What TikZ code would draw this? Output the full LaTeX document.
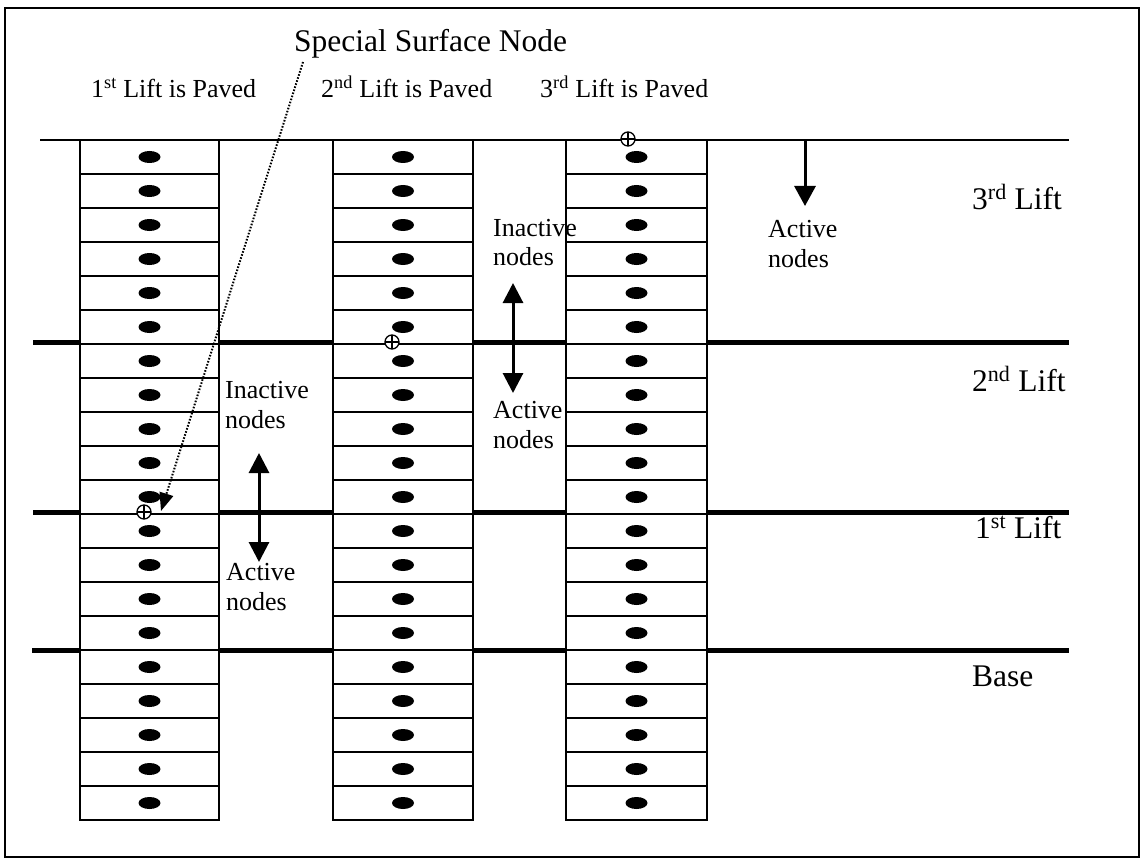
\documentclass[tikz,border=0pt]{standalone}
\usepackage{fontspec}
\setmainfont{Liberation Serif}
\usetikzlibrary{arrows.meta}
\begin{document}
\begin{tikzpicture}[x=1pt,y=-1pt,
  frame/.style={draw,line width=1.8pt},
  colbox/.style={draw,line width=2.2pt,fill=white},
  rowline/.style={line width=1.9pt},
  liftline/.style={line width=5pt},
  topline/.style={line width=2.2pt},
  big/.style={font=\fontsize{31.5}{36}\selectfont,inner sep=0pt,anchor=base west},
  mid/.style={font=\fontsize{26}{30}\selectfont,inner sep=0pt,anchor=base west},
  dbl/.style={line width=3pt,{Triangle[length=20pt,width=20pt]}-{Triangle[length=20pt,width=20pt]}},
  sgl/.style={line width=3pt,-{Triangle[length=20pt,width=21pt]}},
  dotarrow/.style={line width=2pt,dash pattern=on 1.6pt off 1.6pt,-{Triangle[length=18pt,width=14pt]}},
  surf/.style={circle,draw,fill=white,line width=1.3pt,minimum size=14pt,inner sep=0pt,
    path picture={\draw[line width=1.3pt] (path picture bounding box.north) -- (path picture bounding box.south)
      (path picture bounding box.west) -- (path picture bounding box.east);}}
]
\useasboundingbox (0,0) rectangle (1142,861);
\draw[frame] (5,8) rectangle (1139,857);

% horizontal lines
\draw[topline] (40,140) -- (1069,140);
\draw[liftline] (33,342) -- (1069,342);
\draw[liftline] (33,512) -- (1069,512);
\draw[liftline] (32,650) -- (1069,650);

% columns of cells
\foreach \xl/\xr in {80/219,333/473,566/707} {
  \draw[colbox] (\xl,140) rectangle (\xr,820);
  \foreach \i in {1,...,19}
    \draw[rowline] (\xl,{140+34*\i}) -- (\xr,{140+34*\i});
  \foreach \i in {0,...,19}
    \fill ({(\xl+\xr)/2},{157+34*\i}) ellipse [x radius=11,y radius=6];
}

% special surface nodes
\node[surf] (p1) at (144,512) {};
\node[surf] (p2) at (392,342) {};
\node[surf] (p3) at (628,139) {};

% titles
\node[big] (ssn) at (294,52) {Special Surface Node};
\node[mid] (t1) at (91,98) {1\textsuperscript{st} Lift is Paved};
\node[mid] (t2) at (321,98) {2\textsuperscript{nd} Lift is Paved};
\node[mid] (t3) at (540,98) {3\textsuperscript{rd} Lift is Paved};

% lift labels
\node[big] (l3) at (972,209) {3\textsuperscript{rd} Lift};
\node[big] (l2) at (972,391) {2\textsuperscript{nd} Lift};
\node[big] (l1) at (975,538) {1\textsuperscript{st} Lift};
\node[big] (lb) at (972,686) {Base};

% active / inactive labels
\node[mid] (ia1) at (225,398) {Inactive};
\node[mid] (ib1) at (225,428) {nodes};
\node[mid] (aa1) at (226,580) {Active};
\node[mid] (ab1) at (226,610) {nodes};
\node[mid] (ia2) at (493,236) {Inactive};
\node[mid] (ib2) at (493,265) {nodes};
\node[mid] (aa2) at (493,418) {Active};
\node[mid] (ab2) at (493,448) {nodes};
\node[mid] (aa3) at (768,237) {Active};
\node[mid] (ab3) at (768,267) {nodes};

% arrows
\coordinate (d1t) at (259,453);
\coordinate (d1b) at (259,562);
\draw[dbl] (d1t) -- (d1b);
\coordinate (d2t) at (513,283);
\coordinate (d2b) at (513,393);
\draw[dbl] (d2t) -- (d2b);
\coordinate (d3t) at (805,140);
\coordinate (d3b) at (805,206);
\draw[sgl] (d3t) -- (d3b);

% pointer from label to special node
\coordinate (ssnfoot) at (303,62);
\coordinate (p1tip) at (161,511);
\draw[dotarrow] (ssnfoot) -- (p1tip);
\end{tikzpicture}
\end{document}
